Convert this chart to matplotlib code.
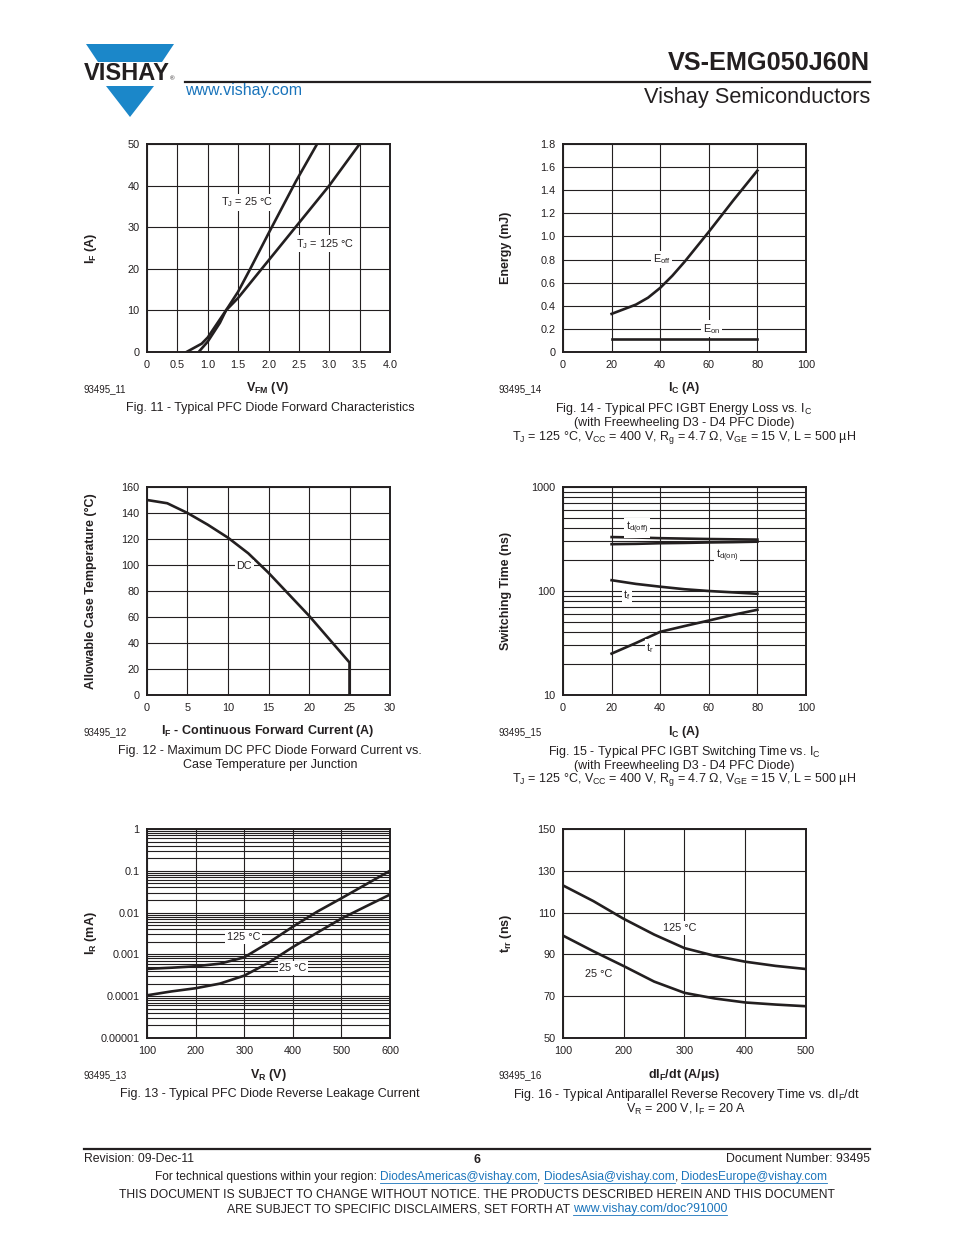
import matplotlib
matplotlib.use('Agg')
import numpy as np
import matplotlib.pyplot as plt
from matplotlib.patches import Polygon
from matplotlib.lines import Line2D
from matplotlib.ticker import LogLocator, NullFormatter

plt.rcParams['font.family'] = ['Liberation Sans', 'DejaVu Sans']
plt.rcParams['mathtext.fontset'] = 'custom'
plt.rcParams['mathtext.rm'] = 'Liberation Sans'
plt.rcParams['mathtext.it'] = 'Liberation Sans:italic'
plt.rcParams['mathtext.bf'] = 'Liberation Sans:bold'

W, H = 954, 1235
INK = '#231f20'
BLUE = '#1a74bb'
LOGO = '#1b87c9'

# Fig. 11 - forward characteristics
vf_25 = [0.85, 1.0, 1.2, 1.3, 1.5, 1.7, 2.0, 2.45, 2.8]
if_25 = [0, 2.5, 7, 10, 14.5, 20, 28.5, 41, 50]
vf_125 = [0.65, 0.9, 1.0, 1.3, 1.5, 2.0, 2.5, 3.0, 3.5]
if_125 = [0, 2, 3.5, 10, 13, 22, 31, 40, 50]

# Fig. 14 - energy loss
ic_e = [20, 25, 30, 35, 40, 45, 50, 60, 70, 80]
eoff = [0.33, 0.37, 0.41, 0.47, 0.555, 0.66, 0.78, 1.04, 1.31, 1.57]
ic_on = [20, 50, 80]
eon = [0.11, 0.11, 0.11]

# Fig. 12 - case temperature vs current
if_dc = [0, 2.5, 5, 7.5, 10, 12.5, 15, 17.5, 20, 22.5, 25, 25]
tc_dc = [150, 147.5, 140, 131, 121, 109, 94, 77.5, 61, 43, 25, 0]

# Fig. 15 - switching time
ic_s = [20, 30, 40, 50, 60, 70, 80]
td_off = [330, 327, 322, 319, 316, 314, 312]
td_on = [282, 284, 288, 290, 293, 295, 298]
t_f = [127, 117, 110, 104, 100, 97, 94]
t_r = [25, 31.6, 40.5, 46, 52, 59, 66]

# Fig. 13 - reverse leakage
vr = [100, 150, 200, 250, 300, 350, 400, 450, 500, 550, 600]
ir_125 = [4.5e-4, 4.8e-4, 5.2e-4, 6.0e-4, 8.5e-4, 1.9e-3, 4.6e-3, 1.05e-2, 2.2e-2, 4.7e-2, 1.0e-1]
ir_25 = [1.05e-4, 1.3e-4, 1.55e-4, 2.0e-4, 3.1e-4, 6.3e-4, 1.5e-3, 3.3e-3, 7.2e-3, 1.4e-2, 2.7e-2]

# Fig. 16 - trr vs dIF/dt
didt = [100, 150, 200, 250, 300, 350, 400, 450, 500]
trr_125 = [123, 115.5, 107, 99.5, 93, 89.3, 86.5, 84.5, 83]
trr_25 = [99, 91.5, 84.4, 77, 71.6, 68.9, 67, 66, 65.2]

fig = plt.figure(figsize=(W / 100, H / 100), dpi=100)


def txt(x, y, s, **kw):
    kw.setdefault('color', INK)
    return fig.text(x / W, 1 - y / H, s, **kw)


def make_ax(x0, y0, x1, y1):
    ax = fig.add_axes([x0 / W, 1 - y1 / H, (x1 - x0) / W, (y1 - y0) / H])
    ax.tick_params(which='both', length=0, pad=5.5, labelsize=7.8, colors=INK)
    for s in ax.spines.values():
        s.set_linewidth(1.4)
        s.set_color(INK)
    ax.grid(True, which='major', color=INK, lw=0.8)
    ax.set_axisbelow(True)
    return ax


def lbl(ax, x, y, s, size=7.8):
    ax.text(x, y, s, fontsize=size, color=INK, ha='center', va='center',
            bbox=dict(fc='white', ec='none', pad=1.2), zorder=4)


LW = 1.9

# ---------- Fig. 11
ax = make_ax(147, 144, 390, 352)
ax.plot(vf_25, if_25, color=INK, lw=LW, zorder=3)
ax.plot(vf_125, if_125, color=INK, lw=LW, zorder=3)
ax.set_xlim(0, 4)
ax.set_ylim(0, 50)
ax.set_xticks(np.arange(0, 4.01, 0.5), ['0', '0.5', '1.0', '1.5', '2.0', '2.5', '3.0', '3.5', '4.0'])
ax.set_yticks(range(0, 51, 10))
lbl(ax, 1.64, 36, r'T$_\mathregular{J}$ = 25 °C')
lbl(ax, 2.93, 26, r'T$_\mathregular{J}$ = 125 °C')

# ---------- Fig. 14
ax = make_ax(563, 144, 806, 352)
ax.plot(ic_e, eoff, color=INK, lw=LW, zorder=3)
ax.plot(ic_on, eon, color=INK, lw=LW, zorder=3)
ax.set_xlim(0, 100)
ax.set_ylim(0, 1.8)
ax.set_xticks(range(0, 101, 20))
ax.set_yticks(np.arange(0, 1.81, 0.2), ['0', '0.2', '0.4', '0.6', '0.8', '1.0', '1.2', '1.4', '1.6', '1.8'])
lbl(ax, 40.7, 0.8, r'E$_\mathregular{off}$')
lbl(ax, 61, 0.2, r'E$_\mathregular{on}$')

# ---------- Fig. 12
ax = make_ax(147, 487, 390, 695)
ax.plot(if_dc, tc_dc, color=INK, lw=LW, zorder=3)
ax.set_xlim(0, 30)
ax.set_ylim(0, 160)
ax.set_xticks(range(0, 31, 5))
ax.set_yticks(range(0, 161, 20))
lbl(ax, 12, 99, 'DC')

# ---------- Fig. 15
ax = make_ax(563, 487, 806, 695)
ax.set_yscale('log')
ax.plot(ic_s, td_off, color=INK, lw=LW, zorder=3)
ax.plot(ic_s, td_on, color=INK, lw=LW, zorder=3)
ax.plot(ic_s, t_f, color=INK, lw=LW, zorder=3)
ax.plot(ic_s, t_r, color=INK, lw=LW, zorder=3)
ax.set_xlim(0, 100)
ax.set_ylim(10, 1000)
ax.set_xticks(range(0, 101, 20))
ax.set_yticks([10, 100, 1000], ['10', '100', '1000'])
ax.yaxis.set_minor_locator(LogLocator(subs=np.arange(2, 10)))
ax.yaxis.set_minor_formatter(NullFormatter())
ax.grid(True, which='minor', axis='y', color=INK, lw=0.8)
lbl(ax, 30.5, 404, r't$_\mathregular{d(off)}$')
lbl(ax, 67.5, 217, r't$_\mathregular{d(on)}$')
lbl(ax, 26.3, 91, r't$_\mathregular{f}$')
lbl(ax, 35.8, 28.5, r't$_\mathregular{r}$')

# ---------- Fig. 13
ax = make_ax(147, 829, 390, 1038)
ax.set_yscale('log')
ax.plot(vr, ir_125, color=INK, lw=LW, zorder=3)
ax.plot(vr, ir_25, color=INK, lw=LW, zorder=3)
ax.set_xlim(100, 600)
ax.set_ylim(1e-5, 1)
ax.set_xticks(range(100, 601, 100))
ax.set_yticks([1e-5, 1e-4, 1e-3, 1e-2, 1e-1, 1],
              ['0.00001', '0.0001', '0.001', '0.01', '0.1', '1'])
ax.yaxis.set_minor_locator(LogLocator(subs=np.arange(2, 10)))
ax.yaxis.set_minor_formatter(NullFormatter())
ax.grid(True, which='minor', axis='y', color=INK, lw=0.8)
lbl(ax, 298, 2.6e-3, '125 °C')
lbl(ax, 400, 4.7e-4, '25 °C')

# ---------- Fig. 16
ax = make_ax(563, 829, 806, 1038)
ax.plot(didt, trr_125, color=INK, lw=LW, zorder=3)
ax.plot(didt, trr_25, color=INK, lw=LW, zorder=3)
ax.set_xlim(100, 500)
ax.set_ylim(50, 150)
ax.set_xticks(range(100, 501, 100))
ax.set_yticks(range(50, 151, 20))
lbl(ax, 292, 102.6, '125 °C')
lbl(ax, 158, 80.6, '25 °C')

# ---------- axis titles, ids, captions
bold = dict(fontsize=9, fontweight='bold', ha='center', va='center')
cap = dict(fontsize=9, ha='center', va='center')
small = dict(fontsize=7, ha='left', va='center')

txt(91, 248, r'I$_\mathregular{F}$ (A)', rotation=90, **bold)
txt(506, 248, 'Energy (mJ)', rotation=90, **bold)
txt(91, 591, 'Allowable Case Temperature (°C)', rotation=90, **bold)
txt(506, 591, 'Switching Time (ns)', rotation=90, **bold)
txt(91, 933, r'I$_\mathregular{R}$ (mA)', rotation=90, **bold)
txt(506, 933, r't$_\mathregular{rr}$ (ns)', rotation=90, **bold)

txt(268, 388, r'V$_\mathregular{FM}$ (V)', **bold)
txt(684, 388, r'I$_\mathregular{C}$ (A)', **bold)
txt(268, 731, r'I$_\mathregular{F}$ - Continuous Forward Current (A)', **bold)
txt(684, 732, r'I$_\mathregular{C}$ (A)', **bold)
txt(268, 1075, r'V$_\mathregular{R}$ (V)', **bold)
txt(684, 1075, r'dI$_\mathregular{F}$/dt (A/µs)', **bold)

txt(84, 389, '93495_11', **small)
txt(499, 389, '93495_14', **small)
txt(84, 732, '93495_12', **small)
txt(499, 732, '93495_15', **small)
txt(84, 1075, '93495_13', **small)
txt(499, 1075, '93495_16', **small)

cond = r'T$_\mathregular{J}$ = 125 °C, V$_\mathregular{CC}$ = 400 V, R$_\mathregular{g}$ = 4.7 Ω, V$_\mathregular{GE}$ = 15 V, L = 500 µH'
txt(270, 408, 'Fig. 11 - Typical PFC Diode Forward Characteristics', **cap)
txt(684, 409, r'Fig. 14 - Typical PFC IGBT Energy Loss vs. I$_\mathregular{C}$', **cap)
txt(684, 423, '(with Freewheeling D3 - D4 PFC Diode)', **cap)
txt(684, 437, cond, **cap)
txt(270, 751, 'Fig. 12 - Maximum DC PFC Diode Forward Current vs.', **cap)
txt(270, 765, 'Case Temperature per Junction', **cap)
txt(684, 752, r'Fig. 15 - Typical PFC IGBT Switching Time vs. I$_\mathregular{C}$', **cap)
txt(684, 766, '(with Freewheeling D3 - D4 PFC Diode)', **cap)
txt(684, 780, cond, **cap)
txt(270, 1094, 'Fig. 13 - Typical PFC Diode Reverse Leakage Current', **cap)
txt(686, 1095, r'Fig. 16 - Typical Antiparallel Reverse Recovery Time vs. dI$_\mathregular{F}$/dt', **cap)
txt(686, 1109, r'V$_\mathregular{R}$ = 200 V, I$_\mathregular{F}$ = 20 A', **cap)

# ---------- header
def px(pts):
    return [(x / W, 1 - y / H) for x, y in pts]

fig.add_artist(Polygon(px([(86, 44), (174, 44), (162, 62), (98, 62)]), closed=True, fc=LOGO, ec='none'))
fig.add_artist(Polygon(px([(106, 86), (154, 86), (130, 117)]), closed=True, fc=LOGO, ec='none'))
txt(127, 74, 'VISHAY', fontsize=17, fontweight='bold', ha='center', va='center', color='#231f20')
txt(172, 79, '®', fontsize=4.5, ha='center', va='center')
fig.add_artist(Line2D([185 / W, 870 / W], [1 - 82 / H] * 2, color=INK, lw=1.6))
txt(185, 91, 'www.vishay.com', fontsize=11.5, color=BLUE, ha='left', va='center')
txt(870, 63, 'VS-EMG050J60N', fontsize=18.2, fontweight='bold', ha='right', va='center')
txt(870, 98, 'Vishay Semiconductors', fontsize=15.7, ha='right', va='center')

# ---------- footer
fig.add_artist(Line2D([84 / W, 870 / W], [1 - 1149 / H] * 2, color=INK, lw=1.6))
txt(84, 1159, 'Revision: 09-Dec-11', fontsize=8.8, ha='left', va='center')
txt(477, 1160, '6', fontsize=8.8, fontweight='bold', ha='center', va='center')
txt(870, 1159, 'Document Number: 93495', fontsize=8.8, ha='right', va='center')

renderer = fig.canvas.get_renderer()


def chain_center(parts, y, size, cx=477):
    objs = [txt(0, y, s, fontsize=size, color=c, ha='left', va='center') for s, c in parts]
    widths = [t.get_window_extent(renderer).width for t in objs]
    x = cx - sum(widths) / 2
    for t, w, (s, c) in zip(objs, widths, parts):
        t.set_x(x / W)
        if c == BLUE:
            fig.add_artist(Line2D([x / W, (x + w) / W], [1 - (y + 6) / H] * 2, color=BLUE, lw=0.6))
        x += w


chain_center([('For technical questions within your region: ', INK),
              ('DiodesAmericas@vishay.com', BLUE), (', ', INK),
              ('DiodesAsia@vishay.com', BLUE), (', ', INK),
              ('DiodesEurope@vishay.com', BLUE)], 1177, 8.6, cx=491)
txt(477, 1195, 'THIS DOCUMENT IS SUBJECT TO CHANGE WITHOUT NOTICE. THE PRODUCTS DESCRIBED HEREIN AND THIS DOCUMENT',
    fontsize=8.75, ha='center', va='center')
chain_center([('ARE SUBJECT TO SPECIFIC DISCLAIMERS, SET FORTH AT ', INK),
              ('www.vishay.com/doc?91000', BLUE)], 1209, 8.8)

fig.savefig('out.png', dpi=100)
